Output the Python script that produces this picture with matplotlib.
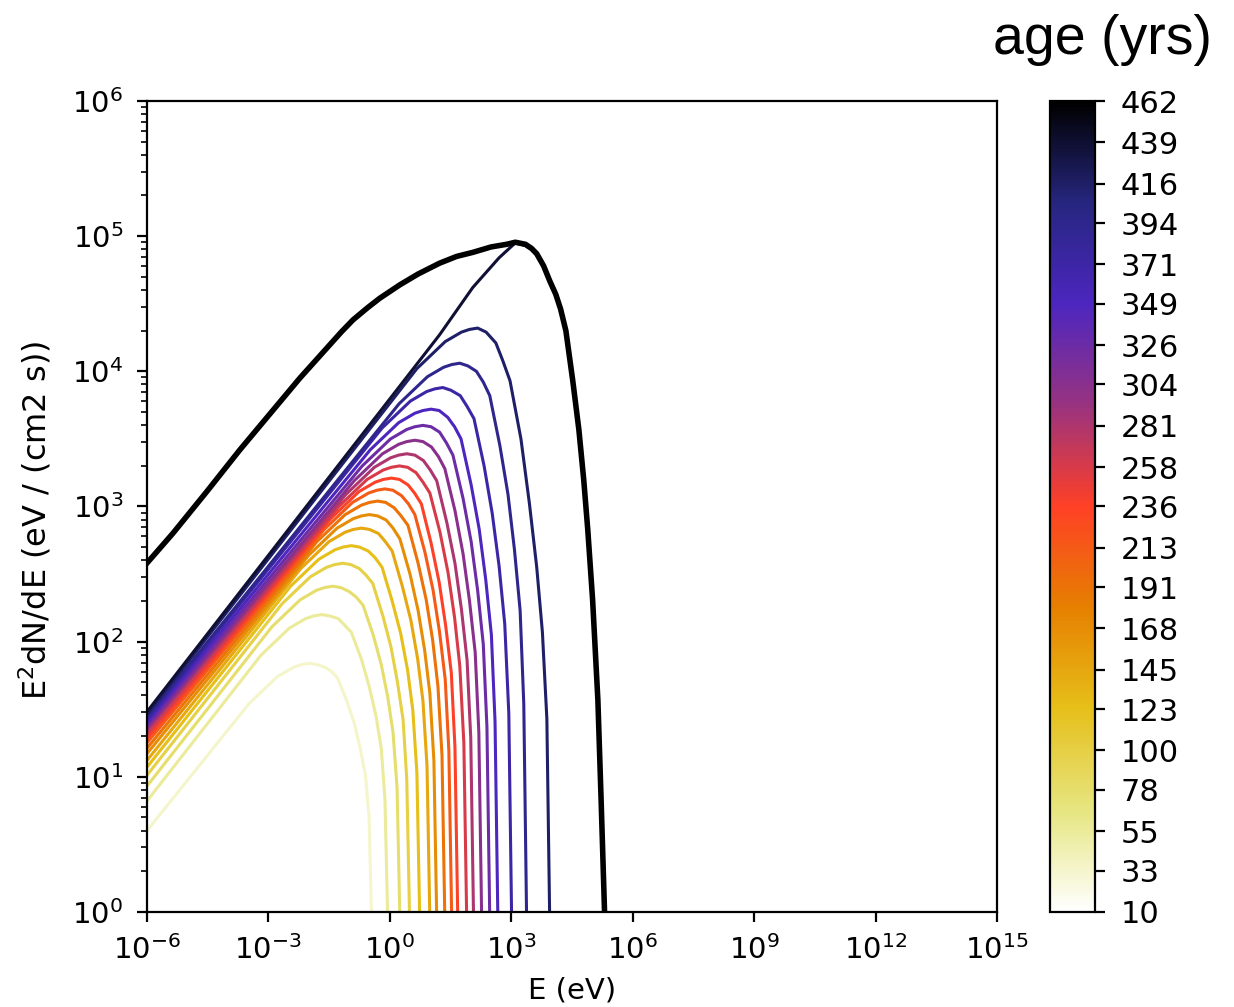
import matplotlib
matplotlib.use("Agg")
import numpy as np
import matplotlib.pyplot as plt
from matplotlib import cm, colors, ticker

# colorbar ages (yrs)
ages = [10, 33, 55, 78, 100, 123, 145, 168, 191, 213, 236, 258, 281, 304,
        326, 349, 371, 394, 416, 439, 462]

# spectra, log10(E/eV) and log10(E^2 dN/dE)
e_33 = [-6, -3.48, -2.78, -2.38, -2.18, -1.98, -1.80, -1.60, -1.44, -1.29, -1.06, -0.88, -0.73, -0.60, -0.51, -0.45]
y_33 = [0.60, 1.54, 1.74, 1.81, 1.83, 1.84, 1.83, 1.81, 1.78, 1.73, 1.56, 1.40, 1.21, 1.01, 0.70, -0.05]
e_55 = [-6, -3.18, -2.48, -2.08, -1.88, -1.68, -1.48, -1.27, -1.11, -0.95, -0.70, -0.51, -0.34, -0.21, -0.12, -0.05]
y_55 = [0.82, 1.90, 2.10, 2.17, 2.19, 2.20, 2.19, 2.17, 2.12, 2.07, 1.87, 1.67, 1.45, 1.21, 0.84, -0.05]
e_78 = [-6, -2.91, -2.21, -1.81, -1.61, -1.41, -1.21, -1.00, -0.83, -0.66, -0.41, -0.21, -0.05, 0.08, 0.18, 0.25]
y_78 = [0.93, 2.11, 2.31, 2.38, 2.40, 2.41, 2.40, 2.37, 2.33, 2.27, 2.05, 1.83, 1.59, 1.33, 0.92, -0.05]
e_100 = [-6, -2.66, -1.96, -1.56, -1.36, -1.16, -0.96, -0.75, -0.58, -0.42, -0.17, 0.03, 0.19, 0.33, 0.42, 0.49]
y_100 = [1.01, 2.28, 2.48, 2.55, 2.57, 2.58, 2.57, 2.54, 2.49, 2.43, 2.19, 1.96, 1.70, 1.42, 0.98, -0.05]
e_123 = [-6, -2.45, -1.75, -1.35, -1.15, -0.95, -0.75, -0.53, -0.36, -0.19, 0.06, 0.27, 0.44, 0.57, 0.67, 0.74]
y_123 = [1.07, 2.41, 2.61, 2.68, 2.70, 2.71, 2.70, 2.67, 2.62, 2.55, 2.30, 2.06, 1.79, 1.49, 1.03, -0.05]
e_145 = [-6, -2.20, -1.50, -1.10, -0.90, -0.70, -0.50, -0.28, -0.11, 0.06, 0.31, 0.52, 0.69, 0.82, 0.92, 0.99]
y_145 = [1.12, 2.54, 2.74, 2.81, 2.83, 2.84, 2.83, 2.80, 2.74, 2.67, 2.41, 2.16, 1.87, 1.56, 1.08, -0.05]
e_168 = [-6, -2.00, -1.30, -0.90, -0.70, -0.50, -0.30, -0.09, 0.08, 0.25, 0.50, 0.70, 0.86, 0.99, 1.09, 1.16]
y_168 = [1.17, 2.64, 2.84, 2.91, 2.93, 2.94, 2.93, 2.90, 2.84, 2.76, 2.50, 2.23, 1.94, 1.62, 1.12, -0.05]
e_191 = [-6, -1.80, -1.10, -0.70, -0.50, -0.30, -0.10, 0.11, 0.28, 0.45, 0.70, 0.90, 1.06, 1.19, 1.29, 1.36]
y_191 = [1.21, 2.74, 2.94, 3.01, 3.03, 3.04, 3.03, 2.99, 2.93, 2.86, 2.58, 2.31, 2.01, 1.67, 1.16, -0.05]
e_213 = [-6, -1.62, -0.92, -0.52, -0.32, -0.12, 0.08, 0.29, 0.46, 0.62, 0.87, 1.07, 1.23, 1.37, 1.46, 1.53]
y_213 = [1.25, 2.83, 3.03, 3.10, 3.12, 3.13, 3.12, 3.08, 3.02, 2.94, 2.66, 2.38, 2.07, 1.72, 1.19, -0.05]
e_236 = [-6, -1.46, -0.76, -0.36, -0.16, 0.04, 0.24, 0.45, 0.61, 0.78, 1.02, 1.22, 1.38, 1.52, 1.61, 1.68]
y_236 = [1.28, 2.91, 3.11, 3.18, 3.20, 3.21, 3.20, 3.16, 3.10, 3.02, 2.73, 2.44, 2.12, 1.77, 1.22, -0.05]
e_258 = [-6, -1.26, -0.56, -0.16, 0.04, 0.24, 0.44, 0.65, 0.82, 0.99, 1.24, 1.44, 1.60, 1.73, 1.83, 1.90]
y_258 = [1.31, 3.00, 3.20, 3.27, 3.29, 3.30, 3.29, 3.25, 3.18, 3.10, 2.81, 2.51, 2.18, 1.82, 1.25, -0.05]
e_281 = [-6, -1.08, -0.38, 0.02, 0.22, 0.42, 0.62, 0.83, 1.00, 1.16, 1.41, 1.61, 1.77, 1.91, 2.00, 2.07]
y_281 = [1.34, 3.09, 3.29, 3.36, 3.38, 3.39, 3.38, 3.34, 3.27, 3.19, 2.88, 2.58, 2.24, 1.86, 1.29, -0.05]
e_304 = [-6, -0.88, -0.18, 0.22, 0.42, 0.62, 0.82, 1.03, 1.20, 1.36, 1.61, 1.81, 1.97, 2.11, 2.20, 2.27]
y_304 = [1.36, 3.19, 3.39, 3.46, 3.48, 3.49, 3.48, 3.44, 3.37, 3.28, 2.97, 2.65, 2.30, 1.92, 1.33, -0.05]
e_326 = [-6, -0.68, 0.02, 0.42, 0.62, 0.82, 1.02, 1.23, 1.40, 1.56, 1.81, 2.01, 2.17, 2.31, 2.40, 2.47]
y_326 = [1.38, 3.30, 3.50, 3.57, 3.59, 3.60, 3.59, 3.55, 3.47, 3.38, 3.06, 2.74, 2.38, 1.98, 1.37, -0.05]
e_349 = [-6, -0.48, 0.22, 0.62, 0.82, 1.02, 1.22, 1.43, 1.60, 1.76, 2.01, 2.21, 2.37, 2.51, 2.60, 2.67]
y_349 = [1.40, 3.42, 3.62, 3.69, 3.71, 3.72, 3.71, 3.66, 3.59, 3.50, 3.16, 2.83, 2.46, 2.05, 1.41, -0.05]
e_371 = [-6, -0.19, 0.51, 0.91, 1.11, 1.31, 1.51, 1.74, 1.91, 2.08, 2.33, 2.53, 2.70, 2.84, 2.94, 3.01]
y_371 = [1.42, 3.58, 3.78, 3.85, 3.87, 3.88, 3.86, 3.82, 3.74, 3.65, 3.30, 2.95, 2.56, 2.13, 1.47, -0.05]
e_394 = [-6, 0.23, 0.93, 1.33, 1.53, 1.73, 1.93, 2.14, 2.31, 2.47, 2.72, 2.92, 3.08, 3.22, 3.31, 3.38]
y_394 = [1.44, 3.76, 3.96, 4.03, 4.05, 4.06, 4.04, 4.00, 3.92, 3.82, 3.45, 3.09, 2.68, 2.23, 1.54, -0.05]
e_416 = [-6, 0.67, 1.37, 1.77, 1.97, 2.17, 2.38, 2.62, 2.79, 2.97, 3.24, 3.45, 3.63, 3.77, 3.88, 3.95]
y_416 = [1.46, 4.02, 4.22, 4.29, 4.31, 4.32, 4.29, 4.21, 4.08, 3.93, 3.50, 3.02, 2.55, 2.07, 1.43, -0.05]
e_439 = [-6, 1.23, 2.05, 2.70, 3.10, 3.35, 3.50, 3.63, 3.80, 3.95, 4.10, 4.22, 4.35, 4.52, 4.67,
         4.79, 4.89, 5.01, 5.14, 5.22, 5.31]
y_439 = [1.48, 4.27, 4.62, 4.84, 4.95, 4.93, 4.90, 4.86, 4.77, 4.66, 4.56, 4.45, 4.29, 3.92, 3.56,
         3.19, 2.82, 2.30, 1.56, 0.82, -0.05]
# final age, drawn thick
e_462 = [-6, -5.36, -4.52, -3.70, -2.89, -2.22, -1.56, -1.20, -0.91, -0.55, -0.25, 0.25, 0.70,
         1.23, 1.65, 2.05, 2.50, 2.89, 3.10, 3.35, 3.50, 3.63, 3.80, 3.95, 4.10, 4.22, 4.35,
         4.52, 4.67, 4.79, 4.89, 5.01, 5.14, 5.22, 5.31]
y_462 = [2.58, 2.80, 3.11, 3.42, 3.71, 3.95, 4.17, 4.29, 4.38, 4.47, 4.54, 4.64, 4.72,
         4.80, 4.85, 4.88, 4.92, 4.94, 4.955, 4.94, 4.91, 4.87, 4.78, 4.67, 4.57, 4.46, 4.30,
         3.93, 3.57, 3.20, 2.83, 2.31, 1.57, 0.83, -0.05]

thin = [(33, e_33, y_33), (55, e_55, y_55), (78, e_78, y_78), (100, e_100, y_100),
        (123, e_123, y_123), (145, e_145, y_145), (168, e_168, y_168), (191, e_191, y_191),
        (213, e_213, y_213), (236, e_236, y_236), (258, e_258, y_258), (281, e_281, y_281),
        (304, e_304, y_304), (326, e_326, y_326), (349, e_349, y_349), (371, e_371, y_371),
        (394, e_394, y_394), (416, e_416, y_416), (439, e_439, y_439)]

plt.rcParams["font.size"] = 10.5

cmap = plt.get_cmap("CMRmap_r")
norm = colors.Normalize(vmin=ages[0], vmax=ages[-1])

fig = plt.figure(figsize=(6.17, 5.035), dpi=200)
ax = fig.add_axes([0.119, 0.0944, 0.689, 0.8053])
cax = fig.add_axes([0.851, 0.0944, 0.036, 0.8053])

for age, le, ly in thin:
    ax.plot(10**np.array(le), 10**np.array(ly), color=cmap(norm(age)), lw=1.1,
            solid_joinstyle="round")
ax.plot(10**np.array(e_462), 10**np.array(y_462), color=cmap(norm(462)), lw=2.0,
        solid_joinstyle="round")

ax.set_xscale("log")
ax.set_yscale("log")
ax.set_xlim(1e-6, 1e15)
ax.set_ylim(1e0, 1e6)
ax.set_xticks([1e-6, 1e-3, 1e0, 1e3, 1e6, 1e9, 1e12, 1e15])
ax.xaxis.set_minor_locator(ticker.NullLocator())
ax.tick_params(labelsize=10.5, pad=5)
ax.set_xlabel("E (eV)", fontsize=10.5)
ax.set_ylabel("E$^2$dN/dE (eV / (cm2 s))", fontsize=11.5)
ax.yaxis.set_label_coords(-0.11, 0.483)
ax.xaxis.set_label_coords(0.5, -0.08)

sm = cm.ScalarMappable(norm=norm, cmap=cmap)
cb = fig.colorbar(sm, cax=cax, ticks=ages)
cb.ax.set_yticklabels([str(a) for a in ages])
cb.ax.tick_params(labelsize=11, pad=6)

fig.text(0.982, 0.96, "age (yrs)", ha="right", va="center", fontsize=20,
         family=["Liberation Sans", "DejaVu Sans"])

fig.savefig("out.png", dpi=200)
